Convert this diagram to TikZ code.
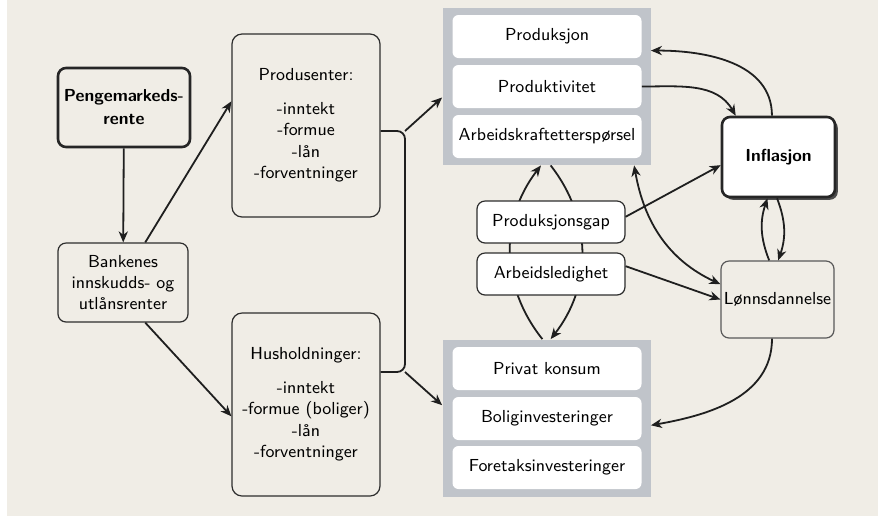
\documentclass[tikz,border=0pt]{standalone}
\usetikzlibrary{arrows.meta,shadows}
\pgfdeclarelayer{bg}
\pgfsetlayers{bg,main}
\definecolor{beige}{RGB}{240,237,230}
\definecolor{panelgray}{RGB}{192,196,202}
\definecolor{boxline}{RGB}{45,45,45}
\tikzset{
  boks/.style={draw=boxline,line width=0.6pt,rounded corners=4pt,align=center,inner sep=1pt},
  tykkboks/.style={boks,line width=1.3pt,draw=black!85},
  panel/.style={fill=panelgray,minimum width=104pt,minimum height=78.5pt,inner sep=0pt},
  felt/.style={fill=white,rounded corners=3pt,minimum width=94.5pt,minimum height=21.5pt,inner sep=0pt},
  pil/.style={->,line width=0.9pt,draw=black!88},
}
\begin{document}
\begin{tikzpicture}[x=0.5pt,y=-0.5pt,
    every node/.style={font=\sffamily\fontsize{8.7}{10.7}\selectfont},
    >={Stealth[length=5.5pt,width=4.6pt,inset=1.7pt]}]
  \useasboundingbox (0,0) rectangle (878,516);
  \begin{pgfonlayer}{bg}
    \fill[beige] (7,0) rectangle (878,516);
  \end{pgfonlayer}
  % venstre side
  \node[tykkboks,minimum width=66pt,minimum height=39.5pt,
    font=\sffamily\bfseries\fontsize{8.7}{11.5}\selectfont] (penge) at (124,107.5) {Pengemarkeds-\\rente};
  \node[boks,minimum width=65pt,minimum height=39.5pt] (bank) at (123,282.5) {Bankenes\\innskudds- og\\utlånsrenter};
  \node[boks,rounded corners=5pt,minimum width=74pt,minimum height=91.5pt] (prod) at (306,125.5)
    {Produsenter:\\[6pt]-inntekt\\-formue\\-lån\\-forventninger};
  \node[boks,rounded corners=5pt,minimum width=74pt,minimum height=91.5pt] (hush) at (306,404.5)
    {Husholdninger:\\[6pt]-inntekt\\-formue (boliger)\\-lån\\-forventninger};
  % paneler
  \node[panel] (topp) at (546.5,86.5) {};
  \node[felt] (produksjon) at (547,36.5) {Produksjon};
  \node[felt] (produktivitet) at (547,86.5) {Produktivitet};
  \node[felt] (arbeidskraft) at (547,136.5) {Arbeidskraftetterspørsel};
  \node[panel] (bunn) at (546.5,418) {};
  \node[felt] (konsum) at (547,368.5) {Privat konsum};
  \node[felt] (bolig) at (547,418.5) {Boliginvesteringer};
  \node[felt] (foretak) at (547,467.5) {Foretaksinvesteringer};
  % midten og hoyre side
  \node[boks,fill=white,minimum width=74pt,minimum height=21pt] (gap) at (551,222) {Produksjonsgap};
  \node[boks,fill=white,minimum width=74pt,minimum height=21pt] (ledig) at (551,274) {Arbeidsledighet};
  \node[tykkboks,fill=white,minimum width=56.5pt,minimum height=40pt,
    drop shadow={shadow xshift=1.4pt,shadow yshift=-1.4pt,fill=black!70,opacity=1},
    font=\sffamily\bfseries\fontsize{8.7}{10.7}\selectfont] (infl) at (778.5,157) {Inflasjon};
  \node[boks,draw=black!65,minimum width=56.5pt,minimum height=38.5pt,inner sep=0pt] (lonn) at (777.5,299.5) {Lønnsdannelse};
  % piler
  \draw[pil] (penge) -- (bank);
  \draw[pil] (bank.61) -- (prod.162);
  \draw[pil] (bank.299) -- (hush.189);
  \coordinate (kt) at (405,131);
  \coordinate (kb) at (405,372);
  \draw[line width=0.9pt,draw=black!88,rounded corners=4pt] (prod.east |- kt) -| (kb) -- (hush.east |- kb);
  \draw[pil] (kt) -- (topp.186);
  \draw[pil] (kb) -- (bunn.173);
  \draw[pil] (produktivitet.east) to[out=0,in=120] (infl.136);
  \draw[pil] (infl.99) to[out=90,in=0] (topp.19);
  \draw[pil] (gap.4) -- (infl.188);
  \draw[pil] (ledig.6) -- (lonn.west);
  \draw[pil,<->] (topp.318) to[out=-80,in=155] (lonn.165);
  \draw[pil] (lonn.102) to[bend left=20] (infl.255);
  \draw[pil] (infl.268) to[bend left=20] (lonn.89);
  \draw[pil] (lonn.262) to[out=-90,in=10] (bunn.356);
  \begin{pgfonlayer}{bg}
    \draw[pil] (bunn.93) to[bend left=38] (topp.266);
    \draw[pil] (topp.273) to[bend left=38] (bunn.87);
  \end{pgfonlayer}
\end{tikzpicture}
\end{document}
